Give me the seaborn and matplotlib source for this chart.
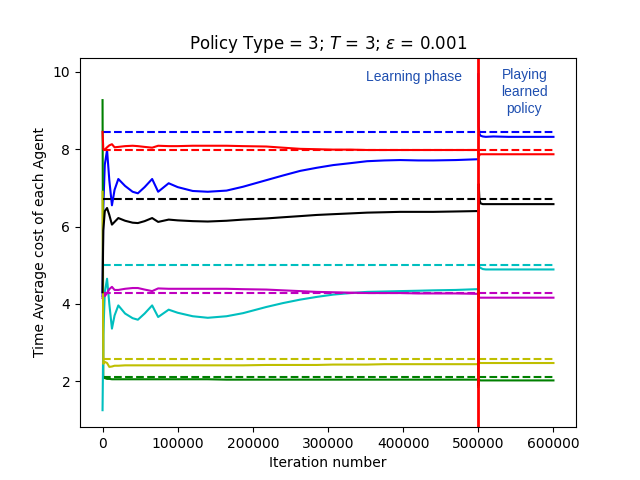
import matplotlib
matplotlib.use("Agg")
import matplotlib.pyplot as plt
import seaborn as sns
import numpy as np

# ---------------- data ----------------
learn_x = [0, 1000, 3000, 6000, 9000, 12500, 16000, 21000, 30000, 40000, 47000,
           56000, 66000, 74000, 88000, 100000, 120000, 140000, 165000, 187000,
           218000, 240000, 263000, 285000, 307000, 330000, 352000, 375000,
           396000, 420000, 440000, 470000, 498000]

learn_blue = [4.2, 6.5, 7.6, 7.98, 7.2, 6.55, 6.95, 7.23, 7.05, 6.9, 6.86,
              7.02, 7.23, 6.9, 7.12, 7.02, 6.92, 6.9, 6.93, 7.03,
              7.2, 7.32, 7.44, 7.52, 7.59, 7.64, 7.69, 7.71,
              7.72, 7.71, 7.71, 7.72, 7.74]
learn_green = [9.27, 2.1, 2.08, 2.06, 2.06, 2.05, 2.05, 2.05, 2.05, 2.05, 2.05,
               2.05, 2.05, 2.05, 2.05, 2.05, 2.05, 2.05, 2.04, 2.04,
               2.04, 2.04, 2.04, 2.04, 2.04, 2.04, 2.04, 2.04,
               2.04, 2.04, 2.04, 2.04, 2.04]
learn_red = [8.45, 8.0, 7.99, 8.05, 8.1, 8.13, 8.05, 8.06, 8.08, 8.09, 8.08,
             8.06, 8.04, 8.09, 8.08, 8.08, 8.09, 8.09, 8.09, 8.08,
             8.07, 8.04, 8.01, 8.0, 7.99, 7.99, 7.98, 7.98,
             7.98, 7.98, 7.98, 7.98, 7.98]
learn_cyan = [1.25, 3.2, 4.3, 4.65, 4.0, 3.36, 3.7, 3.96, 3.75, 3.63, 3.59,
              3.75, 3.96, 3.66, 3.85, 3.77, 3.68, 3.64, 3.68, 3.76,
              3.92, 4.02, 4.11, 4.18, 4.24, 4.28, 4.31, 4.32,
              4.33, 4.34, 4.35, 4.36, 4.38]
learn_magenta = [4.15, 4.25, 4.2, 4.28, 4.38, 4.44, 4.36, 4.36, 4.39, 4.41, 4.41,
                 4.37, 4.33, 4.4, 4.39, 4.39, 4.39, 4.39, 4.39, 4.38,
                 4.37, 4.35, 4.33, 4.31, 4.3, 4.29, 4.28, 4.28,
                 4.28, 4.27, 4.27, 4.27, 4.26]
learn_yellow = [6.9, 2.45, 2.5, 2.47, 2.37, 2.38, 2.4, 2.4, 2.41, 2.41, 2.41,
                2.41, 2.41, 2.41, 2.41, 2.41, 2.41, 2.41, 2.41, 2.41,
                2.42, 2.42, 2.42, 2.42, 2.43, 2.43, 2.43, 2.44,
                2.44, 2.44, 2.44, 2.44, 2.44]
learn_black = [4.3, 5.9, 6.4, 6.48, 6.3, 6.05, 6.12, 6.22, 6.15, 6.1, 6.09,
               6.14, 6.22, 6.12, 6.18, 6.16, 6.14, 6.13, 6.15, 6.18,
               6.21, 6.24, 6.27, 6.3, 6.32, 6.34, 6.36, 6.37,
               6.38, 6.38, 6.38, 6.39, 6.4]

play_x = [500000, 500500, 501500, 503000, 506000, 510000, 520000, 540000,
          560000, 580000, 600000]
play_blue = [9.94, 8.6, 8.4, 8.35, 8.33, 8.32, 8.33, 8.32, 8.32, 8.32, 8.32]
play_green = [1.85, 2.05, 2.03, 2.02, 2.02, 2.02, 2.02, 2.02, 2.02, 2.02, 2.02]
play_red = [7.95, 7.8, 7.85, 7.87, 7.87, 7.87, 7.87, 7.87, 7.87, 7.87, 7.87]
play_cyan = [7.0, 5.0, 4.95, 4.93, 4.9, 4.89, 4.89, 4.89, 4.89, 4.89, 4.89]
play_magenta = [4.3, 4.18, 4.16, 4.16, 4.16, 4.16, 4.16, 4.16, 4.16, 4.16, 4.16]
play_yellow = [3.7, 2.5, 2.48, 2.47, 2.47, 2.47, 2.47, 2.47, 2.47, 2.47, 2.47]
play_black = [1.9, 7.1, 6.7, 6.6, 6.58, 6.58, 6.58, 6.58, 6.58, 6.58, 6.58]

ref_x = [0, 600000]
ref_blue = 8.44
ref_green = 2.11
ref_red = 7.98
ref_cyan = 5.0
ref_magenta = 4.27
ref_yellow = 2.58
ref_black = 6.70

switch_iter = 500000
title_text = r"Policy Type = 3; $T$ = 3; $\epsilon$ = 0.001"

# ---------------- plot ----------------
fig, ax = plt.subplots(figsize=(6.4, 4.8), dpi=100)

series = [
    ("b", learn_blue, play_blue, ref_blue),
    ("g", learn_green, play_green, ref_green),
    ("r", learn_red, play_red, ref_red),
    ("c", learn_cyan, play_cyan, ref_cyan),
    ("m", learn_magenta, play_magenta, ref_magenta),
    ("y", learn_yellow, play_yellow, ref_yellow),
    ("k", learn_black, play_black, ref_black),
]

for col, lv, pv, rv in series:
    sns.lineplot(x=learn_x, y=lv, color=col, ax=ax, linewidth=1.5,
                 estimator=None, sort=False)
    sns.lineplot(x=play_x, y=pv, color=col, ax=ax, linewidth=1.5,
                 estimator=None, sort=False)
    sns.lineplot(x=ref_x, y=[rv, rv], color=col, ax=ax, linewidth=1.5,
                 linestyle="--", estimator=None, sort=False)

ax.axvline(switch_iter, color="r", linewidth=2)

ax.set_xlim(-30000, 630000)
ax.set_ylim(0.81, 10.37)

ax.text(414700, 9.87, "Learning phase", ha="center", va="center",
        color="#1f4fb0", fontsize=10, family="Liberation Sans")
ax.text(561300, 9.48, "Playing\nlearned\npolicy", ha="center", va="center",
        color="#1f4fb0", fontsize=10, family="Liberation Sans",
        linespacing=1.3)

ax.set_title(title_text, fontsize=12)
ax.set_xlabel("Iteration number")
ax.set_ylabel("Time Average cost of each Agent")

fig.savefig("out.png", dpi=100)
